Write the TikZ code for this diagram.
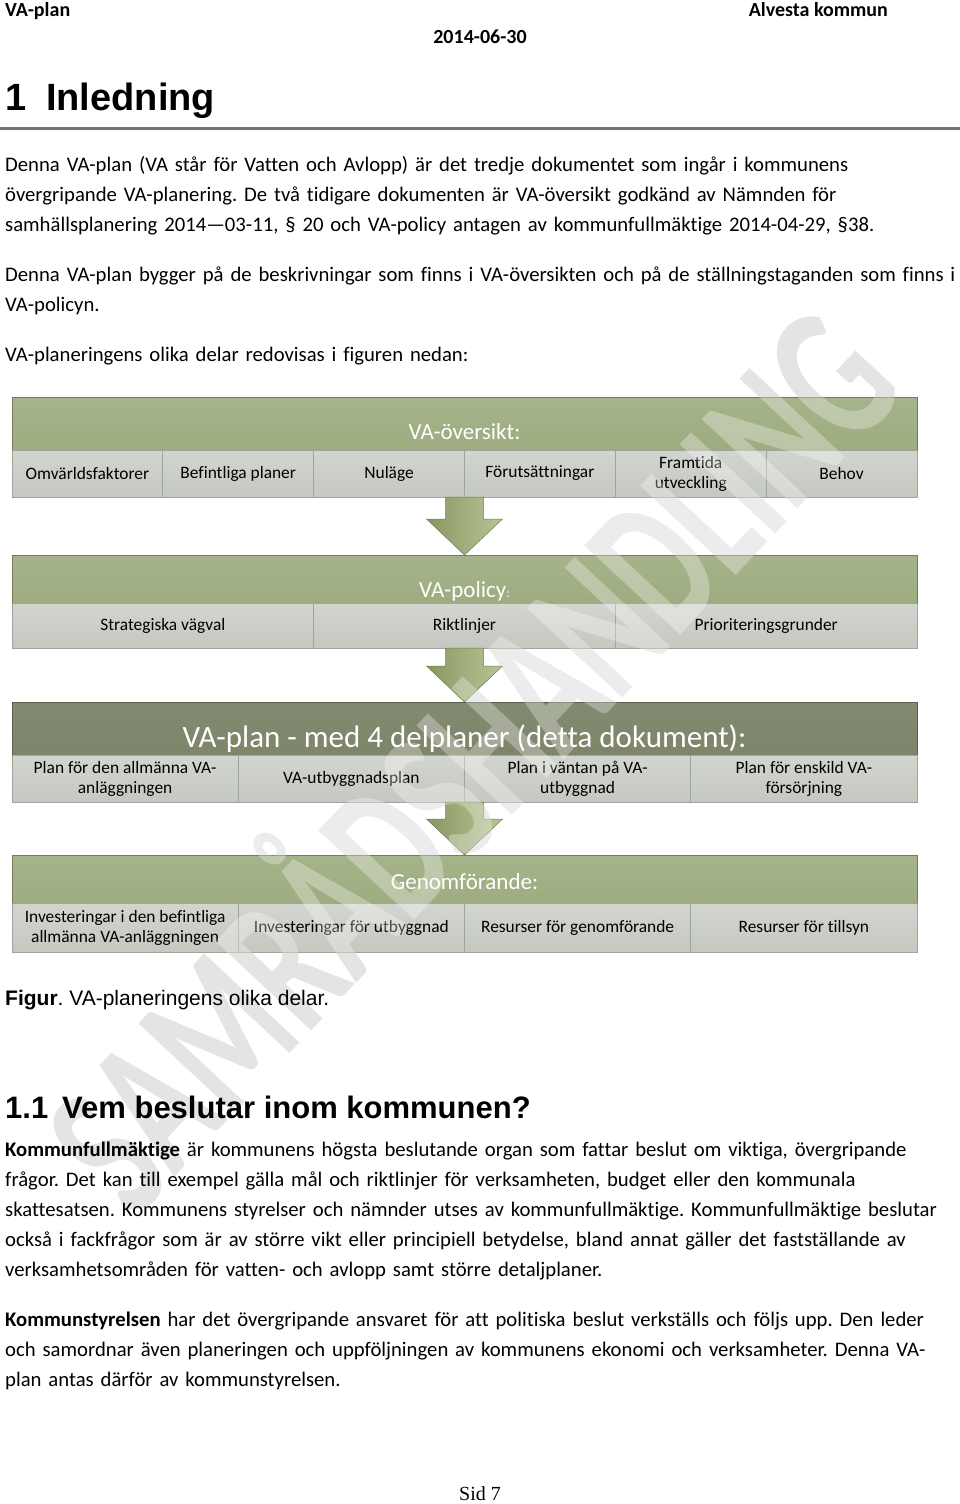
\documentclass[tikz,border=0pt]{standalone}
\usepackage{fontspec}
\setmainfont{Carlito}[Ligatures=NoCommon]
\newfontfamily\arialfont{Liberation Sans}
\newfontfamily\timesfont{Liberation Serif}
\usetikzlibrary{positioning,calc}
\definecolor{bargreen}{RGB}{150,166,118}
\definecolor{bardark}{RGB}{120,128,100}
\definecolor{cellgray}{RGB}{196,200,192}
\definecolor{cellline}{RGB}{160,165,155}
\definecolor{arrowgreen}{RGB}{160,178,115}
\definecolor{rulegray}{RGB}{115,115,115}
\definecolor{wmgray}{RGB}{228,228,228}

\pgfdeclarelayer{wmback}
\pgfdeclarelayer{wmfront}
\pgfsetlayers{wmback,main,wmfront}

\newcommand{\fsz}[2]{\fontsize{#1}{#2}\selectfont}
\newcommand{\samrad}[2]{\node[wmark, #2] (#1) at (458,748) {SAMRÅDSHANDLING};}
\newcommand{\stagearrow}[2]{%
  \path[stagearrow] ($(#1.south)+(-19,0)$) -- ($(#2.north)+(-19,-36)$)
    -- ($(#2.north)+(-38,-36)$) -- (#2.north) -- ($(#2.north)+(38,-36)$)
    -- ($(#2.north)+(19,-36)$) -- ($(#1.south)+(19,0)$) -- cycle;}

\tikzset{
  header/.style={inner sep=0pt, font=\bfseries\fsz{20}{20}},
  bodytext/.style={anchor=base west, inner sep=0pt, text width=1000pt, align=left, font=\fsz{20.7}{30}},
  bar/.style={anchor=north west, minimum width=905pt, inner sep=0pt, outer sep=0pt,
    draw=bargreen!75!black, line width=0.8pt, top color=bargreen!85!white, bottom color=bargreen},
  darkbar/.style={bar, draw=bardark!75!black, top color=bardark!92!white, bottom color=bardark},
  cell/.style={inner sep=1pt, outer sep=0pt, align=center, font=\fsz{17.4}{20},
    draw=cellline, line width=0.8pt, top color=cellgray!75!white, bottom color=cellgray},
  barlabel/.style={anchor=base, inner sep=0pt, text=white, font=\fsz{23}{23}},
  stagearrow/.style={draw=arrowgreen!70!black, line width=0.5pt,
    left color=arrowgreen!85!black, right color=arrowgreen!75!white},
  wmark/.style={rotate=47, yscale=1.55, inner sep=0pt, font=\bfseries\fsz{130}{130}}
}

\begin{document}
\frenchspacing
\begin{tikzpicture}[x=1pt, y=-1pt]
  \useasboundingbox (0,0) rectangle (960,1504);

  % page header
  \node[header, anchor=base west] (hdleft) at (5,17) {VA-plan};
  \node[header, anchor=base east] (hdright) at (888,17) {Alvesta kommun};
  \node[header, anchor=base] (hddate) at (480,44) {2014-06-30};

  % chapter title and rule
  \node[inner sep=0pt, anchor=base west, font=\arialfont\bfseries\fsz{38}{38}] (chap)
    at (5,110) {\makebox[41pt][l]{1}Inledning};
  \draw[rulegray, line width=3pt] (0,128) -- (960,128);

  % introduction
  \node[bodytext] (intro1) at (5,171) {Denna VA-plan (VA står för Vatten och Avlopp) är det tredje dokumentet som ingår i kommunens\\
    övergripande VA-planering. De två tidigare dokumenten är VA-översikt godkänd av Nämnden för\\
    samhällsplanering 2014—03-11, § 20 och VA-policy antagen av kommunfullmäktige 2014-04-29, §38.};
  \node[bodytext] (intro2) at (5,281) {Denna VA-plan bygger på de beskrivningar som finns i VA-översikten och på de ställningstaganden som finns i\\
    VA-policyn.};
  \node[bodytext] (intro3) at (5,361) {VA-planeringens olika delar redovisas i figuren nedan:};

  % stage 1: VA-översikt
  \node[bar, minimum height=100pt] (bar1) at (12,397) {};
  \node[cell, minimum width=150.83pt, minimum height=47pt, anchor=south west] (ov1) at (bar1.south west) {Omvärldsfaktorer};
  \node[cell, minimum width=150.83pt, minimum height=47pt, right=0pt of ov1] (ov2) {Befintliga planer};
  \node[cell, minimum width=150.83pt, minimum height=47pt, right=0pt of ov2] (ov3) {Nuläge};
  \node[cell, minimum width=150.83pt, minimum height=47pt, right=0pt of ov3] (ov4) {Förutsättningar};
  \node[cell, minimum width=150.83pt, minimum height=47pt, right=0pt of ov4] (ov5) {Framtida\\utveckling};
  \node[cell, minimum width=150.83pt, minimum height=47pt, right=0pt of ov5] (ov6) {Behov};
  \node[barlabel] (lab1) at ($(ov1.north west)!0.5!(ov6.north east)+(0,-11)$) {VA-översikt:};

  % stage 2: VA-policy
  \node[bar, minimum height=93pt] (bar2) at (12,555) {};
  \node[cell, minimum width=301.67pt, minimum height=45pt, anchor=south west] (po1) at (bar2.south west) {Strategiska vägval};
  \node[cell, minimum width=301.67pt, minimum height=45pt, right=0pt of po1] (po2) {Riktlinjer};
  \node[cell, minimum width=301.67pt, minimum height=45pt, right=0pt of po2] (po3) {Prioriteringsgrunder};
  \node[barlabel] (lab2) at ($(po1.north west)!0.5!(po3.north east)+(0,-6)$) {VA-policy{\fsz{13}{13}:}};

  % stage 3: VA-plan
  \node[darkbar, minimum height=100pt] (bar3) at (12,702) {};
  \node[cell, minimum width=226.25pt, minimum height=47pt, anchor=south west] (pl1) at (bar3.south west) {Plan för den allmänna VA-\\anläggningen};
  \node[cell, minimum width=226.25pt, minimum height=47pt, right=0pt of pl1] (pl2) {VA-utbyggnadsplan};
  \node[cell, minimum width=226.25pt, minimum height=47pt, right=0pt of pl2] (pl3) {Plan i väntan på VA-\\utbyggnad};
  \node[cell, minimum width=226.25pt, minimum height=47pt, right=0pt of pl3] (pl4) {Plan för enskild VA-\\försörjning};
  \node[barlabel, font=\fsz{31}{31}] (lab3) at ($(pl1.north west)!0.5!(pl4.north east)+(0,-8)$) {VA-plan - med 4 delplaner (detta dokument):};

  % stage 4: Genomförande
  \node[bar, minimum height=97pt] (bar4) at (12,855) {};
  \node[cell, minimum width=226.25pt, minimum height=49pt, anchor=south west] (ge1) at (bar4.south west) {Investeringar i den befintliga\\allmänna VA-anläggningen};
  \node[cell, minimum width=226.25pt, minimum height=49pt, right=0pt of ge1] (ge2) {Investeringar för utbyggnad};
  \node[cell, minimum width=226.25pt, minimum height=49pt, right=0pt of ge2] (ge3) {Resurser för genomförande};
  \node[cell, minimum width=226.25pt, minimum height=49pt, right=0pt of ge3] (ge4) {Resurser för tillsyn};
  \node[barlabel] (lab4) at ($(ge1.north west)!0.5!(ge4.north east)+(0,-14)$) {Genomförande:};

  % arrows between the stages
  \stagearrow{bar1}{bar2}
  \stagearrow{bar2}{bar3}
  \stagearrow{bar3}{bar4}

  % caption
  \node[inner sep=0pt, anchor=base west, font=\arialfont\fsz{21}{21}] (caption)
    at (5,1005) {\textbf{Figur}. VA-planeringens olika delar.};

  % section 1.1
  \node[inner sep=0pt, anchor=base west, font=\arialfont\bfseries\fsz{31}{31}] (sect)
    at (5,1118) {\makebox[57pt][l]{1.1}Vem beslutar inom kommunen?};
  \node[bodytext] (kf) at (5,1156) {\textbf{Kommunfullmäktige} är kommunens högsta beslutande organ som fattar beslut om viktiga, övergripande\\
    frågor. Det kan till exempel gälla mål och riktlinjer för verksamheten, budget eller den kommunala\\
    skattesatsen. Kommunens styrelser och nämnder utses av kommunfullmäktige. Kommunfullmäktige beslutar\\
    också i fackfrågor som är av större vikt eller principiell betydelse, bland annat gäller det fastställande av\\
    verksamhetsområden för vatten- och avlopp samt större detaljplaner.};
  \node[bodytext] (ks) at (5,1326) {\textbf{Kommunstyrelsen} har det övergripande ansvaret för att politiska beslut verkställs och följs upp. Den leder\\
    och samordnar även planeringen och uppföljningen av kommunens ekonomi och verksamheter. Denna VA-\\
    plan antas därför av kommunstyrelsen.};

  % page number
  \node[inner sep=0pt, anchor=base, font=\timesfont\fsz{20}{20}] (pagenr) at (480,1500) {Sid 7};

  % watermark
  \begin{pgfonlayer}{wmback}
    \fill[white] (0,0) rectangle (960,1504);
    \samrad{wmback}{text=wmgray}
  \end{pgfonlayer}
  \begin{pgfonlayer}{wmfront}
    \begin{scope}
      \clip (bar1.north west) rectangle (bar4.south east);
      \samrad{wmfront}{text=white, text opacity=0.3}
    \end{scope}
  \end{pgfonlayer}
\end{tikzpicture}
\end{document}
